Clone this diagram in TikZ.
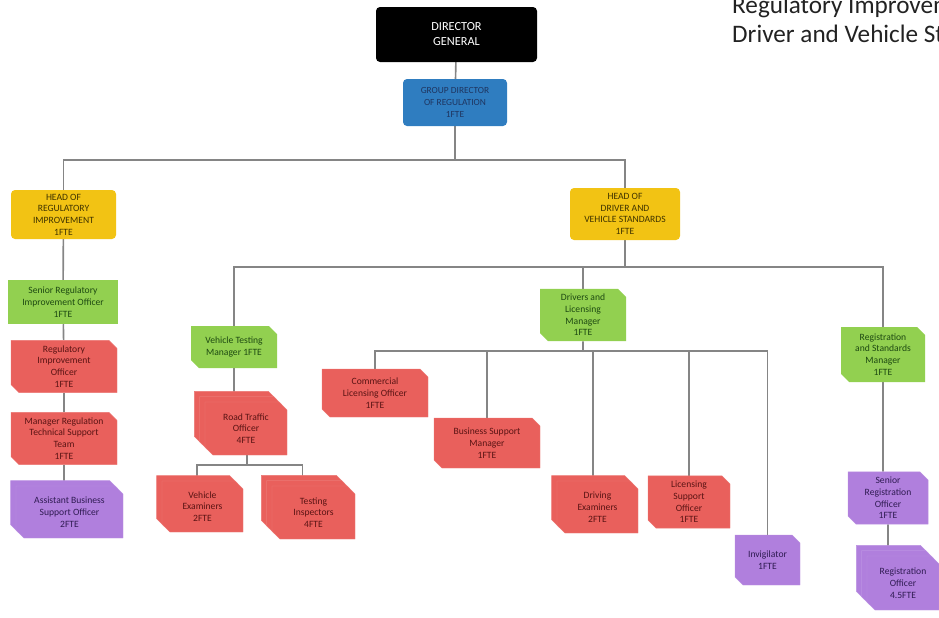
\documentclass[tikz,border=0pt]{standalone}
\usepackage{fontspec}
\setmainfont{Carlito}
\usetikzlibrary{shapes.misc}
\usetikzlibrary{shadows}
\usetikzlibrary{backgrounds}

\definecolor{regblue}{HTML}{2F7DC0}
\definecolor{regtext}{HTML}{1F3560}
\definecolor{hdyellow}{HTML}{F2C314}
\definecolor{hdtext}{HTML}{3F3300}
\definecolor{mgrgreen}{HTML}{92D050}
\definecolor{mgrtext}{HTML}{1E4A12}
\definecolor{offred}{HTML}{E9605C}
\definecolor{offtext}{HTML}{5A1414}
\definecolor{supurple}{HTML}{B07FDD}
\definecolor{sutext}{HTML}{2F1B52}
\definecolor{linegray}{HTML}{858585}
\definecolor{titlegray}{HTML}{222222}

\begin{document}
\begin{tikzpicture}[x=0.3mm, y=-0.3mm,
 txt/.style={align=center, font=\fontsize{8.2}{10}\selectfont, inner sep=1pt},
 sz/.style 2 args={minimum width=#1*0.3mm, minimum height=#2*0.3mm},
 headbox/.style={txt, rounded corners=1.2mm, fill=hdyellow, text=hdtext},
 snipbox/.style={txt, chamfered rectangle, chamfered rectangle corners={north east,south west}, chamfered rectangle xsep=1.2mm, chamfered rectangle ysep=1.2mm},
 greenbox/.style={snipbox, fill=mgrgreen, text=mgrtext},
 redbox/.style={snipbox, fill=offred, text=offtext, draw=offred!85!white, line width=.4pt},
 purplebox/.style={snipbox, fill=supurple, text=sutext, draw=supurple!85!white, line width=.4pt},
 stack2/.style={copy shadow={shadow xshift=-1.6mm, shadow yshift=1.6mm}},
 stack3/.style={double copy shadow={shadow xshift=-1.6mm, shadow yshift=1.6mm}},
 link/.style={draw=linegray, line width=1.4pt}]
\useasboundingbox (0,0) rectangle (939,617);

% title, cut at the right edge
\begin{scope}
\clip (0,0) rectangle (939,617);
\node[anchor=base west, inner sep=0, text=titlegray, font=\fontsize{21.5}{25}\selectfont] (ttl1) at (732,13) {Regulatory Improvement};
\node[anchor=base west, inner sep=0, text=titlegray, font=\fontsize{21.5}{25}\selectfont] (ttl2) at (732,42) {Driver and Vehicle Standards};
\end{scope}

% top
\node[txt, fill=black, text=white, rounded corners=1.2mm, sz={161}{55}, font=\fontsize{10.5}{12.8}\selectfont] (dg) at (456.5,34.5) {DIRECTOR\\GENERAL};
\node[txt, fill=regblue, text=regtext, rounded corners=1.2mm, sz={104}{47}, font=\fontsize{8}{10}\selectfont] (gdr) at (455,102.5) {GROUP DIRECTOR\\OF REGULATION\\1FTE};
\node[headbox, sz={105}{49}] (hri) at (63.5,214.5) {HEAD OF\\REGULATORY\\IMPROVEMENT\\1FTE};
\node[headbox, sz={110}{52}] (hdvs) at (625,214) {HEAD OF\\DRIVER AND\\VEHICLE STANDARDS\\1FTE};

% regulatory improvement
\node[txt, fill=mgrgreen, text=mgrtext, sz={110}{44}] (sri) at (63,302) {Senior Regulatory\\Improvement Officer\\1FTE};
\node[redbox, sz={106}{49}] (rio) at (64,366.5) {Regulatory\\Improvement\\Officer\\1FTE};
\node[redbox, sz={106}{51}] (mrt) at (64,438.5) {Manager Regulation\\Technical Support\\Team\\1FTE};
\node[purplebox, stack2, sz={107}{52}] (abs) at (69.5,512) {Assistant Business\\Support Officer\\2FTE};

% vehicle testing
\node[greenbox, sz={86}{42}] (vtm) at (234,347) {Vehicle Testing\\Manager 1FTE};
\node[redbox, stack3, sz={82}{53}] (rto) at (246,428.5) {Road Traffic\\Officer\\4FTE};
\node[redbox, stack2, sz={81}{51}] (vex) at (202.5,506.5) {Vehicle\\Examiners\\2FTE};
\node[redbox, stack3, sz={83}{53}] (tin) at (313.5,512.5) {Testing\\Inspectors\\4FTE};

% drivers and licensing
\node[greenbox, sz={86}{50}] (dlm) at (583,315) {Drivers and\\Licensing\\Manager\\1FTE};
\node[redbox, sz={106}{48}] (clo) at (375,393) {Commercial\\Licensing Officer\\1FTE};
\node[redbox, sz={106}{50}] (bsm) at (487,443) {Business Support\\Manager\\1FTE};
\node[redbox, stack2, sz={81}{52}] (dex) at (597.5,507) {Driving\\Examiners\\2FTE};
\node[redbox, sz={82}{52}] (lso) at (689,502) {Licensing\\Support\\Officer\\1FTE};
\node[purplebox, sz={65}{50}] (inv) at (767.5,560) {Invigilator\\1FTE};

% registration
\node[greenbox, sz={84}{55}] (rsm) at (883,354.5) {Registration\\and Standards\\Manager\\1FTE};
\node[purplebox, sz={80}{50}] (sro) at (888,498) {Senior\\Registration\\Officer\\1FTE};
\node[purplebox, stack3, sz={72}{54}] (reo) at (903,583) {Registration\\Officer\\4.5FTE};

\begin{scope}[on background layer={link}]
\coordinate (bus1) at (455,160);
\coordinate (bus2) at (625,267);
\coordinate (bus3) at (247,465);
\coordinate (bus4) at (583,351);
\draw (dg) -- (gdr) -- (bus1);
\draw (bus1) -| (hri);
\draw (bus1) -| (hdvs);
\draw (hri) -- (sri) -- (rio) -- (mrt) -- (mrt |- abs.north);
\draw (hdvs) -- (bus2);
\foreach \n in {vtm,dlm,rsm} \draw (bus2) -| (\n);
\draw (vtm) -- (vtm |- rto.north);
\draw (rto.south -| bus3) -- (bus3);
\draw (bus3) -| ([xshift=-1.6mm]vex.north);
\draw (bus3) -| ([xshift=-3.3mm]tin.north);
\draw (dlm) -- (bus4);
\foreach \n in {clo,bsm,lso,inv} \draw (bus4) -| (\n);
\draw (bus4) -| ([xshift=-1.4mm]dex.north);
\draw (rsm) -- (rsm |- sro.north);
\draw (sro) -- (sro |- reo.north);
\end{scope}
\end{tikzpicture}
\end{document}
